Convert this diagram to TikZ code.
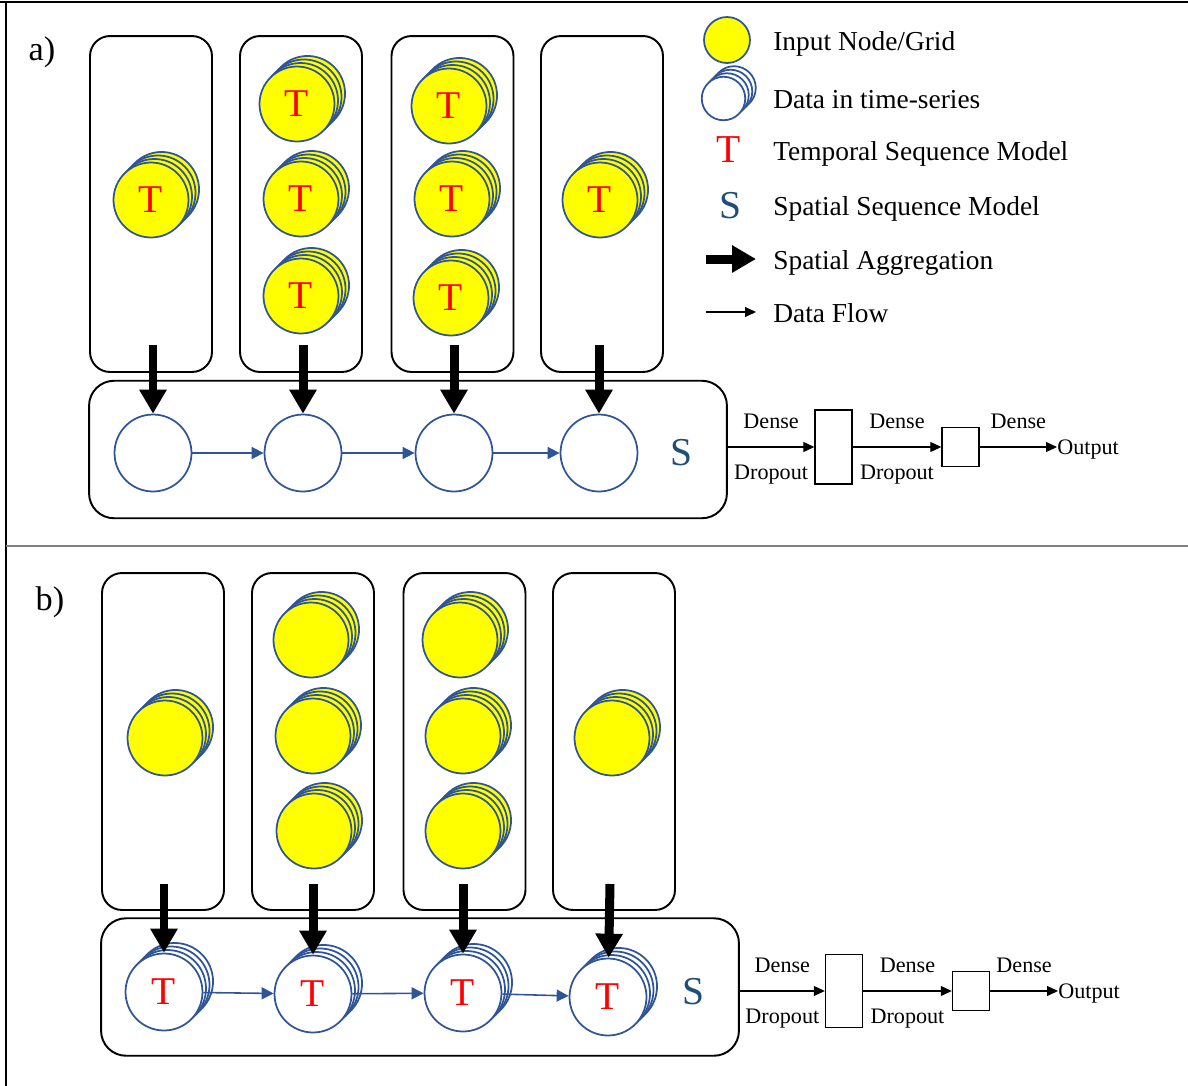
\documentclass[tikz,border=0pt]{standalone}
\usepackage{fontspec}
\setmainfont{Liberation Serif}
\usetikzlibrary{arrows.meta, shadows}
\definecolor{gridyellow}{RGB}{255,255,0}
\definecolor{tsblue}{RGB}{47,85,151}
\definecolor{sblue}{RGB}{31,78,121}
\definecolor{tred}{RGB}{255,0,0}
\tikzstyle{colbox} = [rectangle, rounded corners=0.4cm, minimum width=2.44cm, minimum height=6.72cm, draw=black, line width=1.1pt]
\tikzstyle{seqbox} = [rectangle, rounded corners=0.5cm, minimum width=12.76cm, minimum height=2.75cm, draw=black, line width=1.1pt]
\tikzstyle{ynode} = [circle, minimum size=1.5cm, inner sep=0pt, draw=tsblue, fill=gridyellow, line width=1pt, text=tred, font=\fontsize{22.4}{24}\selectfont]
\tikzstyle{grid} = [ynode, copy shadow={shadow xshift=6pt, shadow yshift=6pt, fill=gridyellow, draw=tsblue}, copy shadow={shadow xshift=4pt, shadow yshift=4pt, fill=gridyellow, draw=tsblue}, copy shadow={shadow xshift=2pt, shadow yshift=2pt, fill=gridyellow, draw=tsblue}]
\tikzstyle{state} = [circle, minimum size=1.54cm, inner sep=0pt, draw=tsblue, fill=white, line width=1pt, text=tred, font=\fontsize{22.4}{24}\selectfont]
\tikzstyle{tstate} = [state, copy shadow={shadow xshift=6pt, shadow yshift=6pt, fill=white, draw=tsblue}, copy shadow={shadow xshift=4pt, shadow yshift=4pt, fill=white, draw=tsblue}, copy shadow={shadow xshift=2pt, shadow yshift=2pt, fill=white, draw=tsblue}]
\tikzstyle{dense} = [rectangle, minimum width=0.74cm, draw=black, line width=0.8pt, inner sep=0pt]
\tikzstyle{agg} = [line width=0.18cm, -{Triangle[width=0.52cm,length=0.48cm]}]
\tikzstyle{flow} = [line width=0.9pt, draw=tsblue, -{Triangle[width=0.24cm,length=0.24cm]}]
\tikzstyle{flowk} = [line width=0.6pt, -{Triangle[width=0.2cm,length=0.22cm]}]
\tikzstyle{lbl} = [inner sep=0pt, font=\fontsize{12.6}{14}\selectfont]
\tikzstyle{legtext} = [anchor=west, inner sep=0pt, text depth=0pt, font=\fontsize{15.6}{18}\selectfont]
\tikzstyle{panel} = [inner sep=0pt, font=\fontsize{19.5}{22}\selectfont]
\tikzstyle{model} = [inner sep=0pt, font=\fontsize{22.5}{24}\selectfont]

\begin{document}
\begin{tikzpicture}
[x=0.02cm, y=-0.02cm]
\useasboundingbox (0,0) rectangle (1188,1086);

\draw [line width=0.05cm] (0,2) -- (1188,2);
\draw [line width=0.04cm] (6,2) -- (6,1086);
\draw [line width=0.03cm, gray] (6,546) -- (1188,546);

% panel a
\node (lblA) [panel] at (42,52) {a)};
\node (colA1) [colbox] at (151,204) {};
\node (colA2) [colbox] at (301,204) {};
\node (colA3) [colbox] at (452.5,204) {};
\node (colA4) [colbox] at (602,204) {};
\node (sboxA) [seqbox] at (408,449.5) {};

\node (gA1) [grid] at (151,200) {T};
\node (gA2) [grid] at (297,104) {T};
\node (gA3) [grid] at (301,199) {T};
\node (gA4) [grid] at (301,296) {T};
\node (gA5) [grid] at (449,106) {T};
\node (gA6) [grid] at (452,199) {T};
\node (gA7) [grid] at (451,298) {T};
\node (gA8) [grid] at (600,200) {T};

\node (sA1) [state] at (153,453) {};
\node (sA2) [state] at (303,453) {};
\node (sA3) [state] at (454,453) {};
\node (sA4) [state] at (599,453) {};
\node (modelSA) [model, text=sblue] at (681,453) {S};

\node (dA1) [dense, minimum height=1.48cm] at (833.5,447) {};
\node (dA2) [dense, minimum height=0.78cm] at (960.5,447) {};
\node (outA) [lbl, anchor=west, text depth=0pt] at (1057,447) {Output};

\coordinate (aA1) at (153,345);
\coordinate (aA2) at (303,345);
\coordinate (aA3) at (454,345);
\coordinate (aA4) at (599,345);

\draw [agg] (aA1) -- (sA1);
\draw [agg] (aA2) -- (sA2);
\draw [agg] (aA3) -- (sA3);
\draw [agg] (aA4) -- (sA4);
\draw [flow] (sA1) -- (sA2);
\draw [flow] (sA2) -- (sA3);
\draw [flow] (sA3) -- (sA4);
\draw [flowk] (sboxA.east |- dA1.west) -- node[lbl, above=10pt] (denseA1) {Dense} node[lbl, below=10pt] (dropA1) {Dropout} (dA1.west);
\draw [flowk] (dA1.east) -- node[lbl, above=10pt] (denseA2) {Dense} node[lbl, below=10pt] (dropA2) {Dropout} (dA2.west);
\draw [flowk] (dA2.east) -- node[lbl, above=10pt] (denseA3) {Dense} (outA.west);

% panel b
\node (lblB) [panel] at (50,602) {b)};
\node (colB1) [colbox, minimum height=6.74cm] at (163,741.5) {};
\node (colB2) [colbox, minimum height=6.74cm] at (313,741.5) {};
\node (colB3) [colbox, minimum height=6.74cm] at (464.5,741.5) {};
\node (colB4) [colbox, minimum height=6.74cm] at (614,741.5) {};
\node (sboxB) [seqbox] at (420,987) {};

\node (gB1) [grid] at (165,738) {};
\node (gB2) [grid] at (311,640) {};
\node (gB3) [grid] at (313,736) {};
\node (gB4) [grid] at (314,831) {};
\node (gB5) [grid] at (460,640) {};
\node (gB6) [grid] at (463,736) {};
\node (gB7) [grid] at (463,831) {};
\node (gB8) [grid] at (612,738) {};

\node (tB1) [tstate] at (164,992) {T};
\node (tB2) [tstate] at (313,994) {T};
\node (tB3) [tstate] at (463,993) {T};
\node (tB4) [tstate] at (608,997) {T};
\node (modelSB) [model, text=sblue] at (693,992) {S};

\node (dB1) [dense, minimum height=1.46cm] at (844,991) {};
\node (dB2) [dense, minimum height=0.78cm] at (971,991) {};
\node (outB) [lbl, anchor=west, text depth=0pt] at (1058,991) {Output};

\coordinate (aB1) at (164,884);
\coordinate (aB2) at (313,884);
\coordinate (aB3) at (463,884);
\coordinate (aB4) at (610,884);

\draw [agg] (aB1) -- (tB1);
\draw [agg] (aB2) -- (tB2);
\draw [agg] (aB3) -- (tB3);
\draw [agg] (aB4) -- (tB4);
\draw [flow] (tB1) -- (tB2);
\draw [flow] (tB2) -- (tB3);
\draw [flow] (tB3) -- (tB4);
\draw [flowk] (sboxB.east |- dB1.west) -- node[lbl, above=10pt] (denseB1) {Dense} node[lbl, below=10pt] (dropB1) {Dropout} (dB1.west);
\draw [flowk] (dB1.east) -- node[lbl, above=10pt] (denseB2) {Dense} node[lbl, below=10pt] (dropB2) {Dropout} (dB2.west);
\draw [flowk] (dB2.east) -- node[lbl, above=10pt] (denseB3) {Dense} (outB.west);

% legend
\node (legGrid) [ynode, minimum size=0.92cm] at (727,40) {};
\node (legSeries) [tstate, minimum size=0.87cm] at (723.5,98.5) {};
\node (legT) [model, text=tred] at (729,150) {T};
\node (legS) [model, text=sblue] at (730,206) {S};
\coordinate (legAggS) at (706,259);
\coordinate (legAggE) at (756,259);
\coordinate (legFlowS) at (706,312);
\coordinate (legFlowE) at (756,312);
\draw [agg] (legAggS) -- (legAggE);
\draw [flowk] (legFlowS) -- (legFlowE);

\node (legGridT) [legtext] at (773,41) {Input Node/Grid};
\node (legSeriesT) [legtext] at (773,99) {Data in time-series};
\node (legTT) [legtext] at (773,151) {Temporal Sequence Model};
\node (legST) [legtext] at (773,206) {Spatial Sequence Model};
\node (legAggT) [legtext] at (773,260) {Spatial Aggregation};
\node (legFlowT) [legtext] at (773,313) {Data Flow};

\end{tikzpicture}
\end{document}
